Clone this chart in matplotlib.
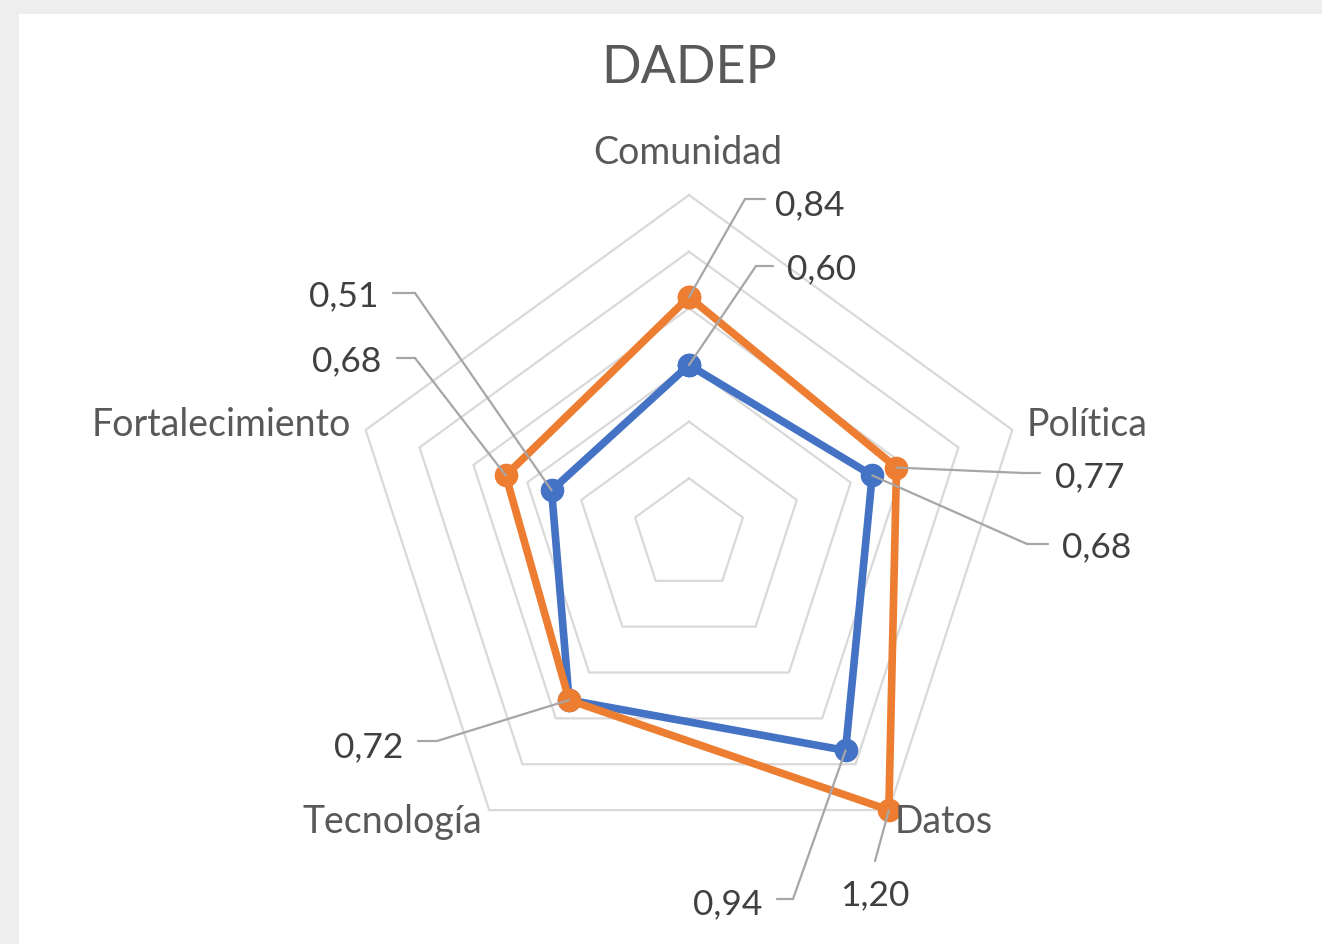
import numpy as np
import matplotlib
matplotlib.use("Agg")
import matplotlib.pyplot as plt
from matplotlib.patches import Rectangle

plt.rcParams['font.family'] = ['Lato', 'DejaVu Sans']

# ---- data ----
title = "DADEP"
categories = ["Comunidad", "Política", "Datos", "Tecnología", "Fortalecimiento"]
serie_azul = [0.60, 0.68, 0.94, 0.72, 0.51]
serie_naranja = [0.84, 0.77, 1.20, 0.72, 0.68]
grid_levels = [0.2, 0.4, 0.6, 0.8, 1.0, 1.2]

W, H = 1322, 945
fig = plt.figure(figsize=(W / 100, H / 100), dpi=100)
fig.patch.set_facecolor('#EEEEEE')
fig.add_artist(Rectangle((19 / W, 0), (W - 19) / W, (H - 15) / H,
                         transform=fig.transFigure, facecolor='white',
                         edgecolor='none', zorder=0))

cx, cy, R = 689, H - 536, 340
ax = fig.add_axes([(cx - R) / W, (cy - R) / H, 2 * R / W, 2 * R / H],
                  projection='polar')
ax.set_facecolor('none')
ax.set_theta_offset(np.pi / 2)
ax.set_theta_direction(-1)
ax.set_ylim(0, max(grid_levels))
ax.grid(False)
ax.spines['polar'].set_visible(False)
ax.set_xticks([])
ax.set_yticks([])

n = len(categories)
angles = np.linspace(0, 2 * np.pi, n, endpoint=False)
ang_c = np.append(angles, angles[0])

for g in grid_levels:
    ax.plot(ang_c, [g] * (n + 1), color='#D9D9D9', lw=1.6, clip_on=False, zorder=1)

blue = '#4472C4'
orange = '#ED7D31'
for vals, col, z in [(serie_azul, blue, 3), (serie_naranja, orange, 4)]:
    v = np.append(vals, vals[0])
    ax.plot(ang_c, v, color=col, lw=5.5, marker='o', markersize=16,
            markerfacecolor=col, markeredgecolor=col, clip_on=False, zorder=z,
            solid_joinstyle='round')

def fp(x, y):
    return (x, H - y)

# title & category labels
fig.text(689 / W, (H - 83) / H, title, ha='center', va='baseline',
         fontsize=37.5, color='#595959')
cat_pos = [(688, 164), (1087, 436), (944, 833), (392, 833), (221, 436)]
for name, (x, y) in zip(categories, cat_pos):
    fig.text(x / W, (H - y) / H, name, ha='center', va='baseline',
             fontsize=27, color='#595959')

# data labels: (series, index, elbow, end-of-horizontal, text pos, ha)
lead = '#A6A6A6'
labels = [
    (serie_naranja, 0, (745, 200), (765, 200), (775, 215), 'left'),
    (serie_azul, 0, (756, 267), (773, 267), (787, 279), 'left'),
    (serie_naranja, 1, (1023, 474), (1040, 474), (1055, 487), 'left'),
    (serie_azul, 1, (1027, 545), (1048, 545), (1062, 557), 'left'),
    (serie_azul, 4, (415, 294), (393, 294), (378, 306), 'right'),
    (serie_naranja, 4, (415, 359), (397, 359), (381, 371), 'right'),
    (serie_naranja, 3, (437, 742), (418, 742), (403, 757), 'right'),
    (serie_naranja, 2, (875, 862), None, (875, 905), 'center'),
    (serie_azul, 2, (793, 900), (777, 900), (762, 914), 'right'),
]
for vals, i, elbow, hend, tpos, ha in labels:
    ax.annotate("", xy=(angles[i], vals[i]), xycoords='data',
                xytext=fp(*elbow), textcoords='figure pixels',
                arrowprops=dict(arrowstyle='-', color=lead, lw=1.6,
                                shrinkA=0, shrinkB=0),
                annotation_clip=False, zorder=6)
    if hend is not None:
        ax.annotate("", xy=fp(*hend), xycoords='figure pixels',
                    xytext=fp(*elbow), textcoords='figure pixels',
                    arrowprops=dict(arrowstyle='-', color=lead, lw=1.6,
                                    shrinkA=0, shrinkB=0),
                    annotation_clip=False, zorder=6)
    txt = f"{vals[i]:.2f}".replace('.', ',')
    fig.text(tpos[0] / W, (H - tpos[1]) / H, txt, ha=ha, va='baseline',
             fontsize=25.5, color='#404040')

fig.savefig('out.png', dpi=100, facecolor=fig.get_facecolor())
